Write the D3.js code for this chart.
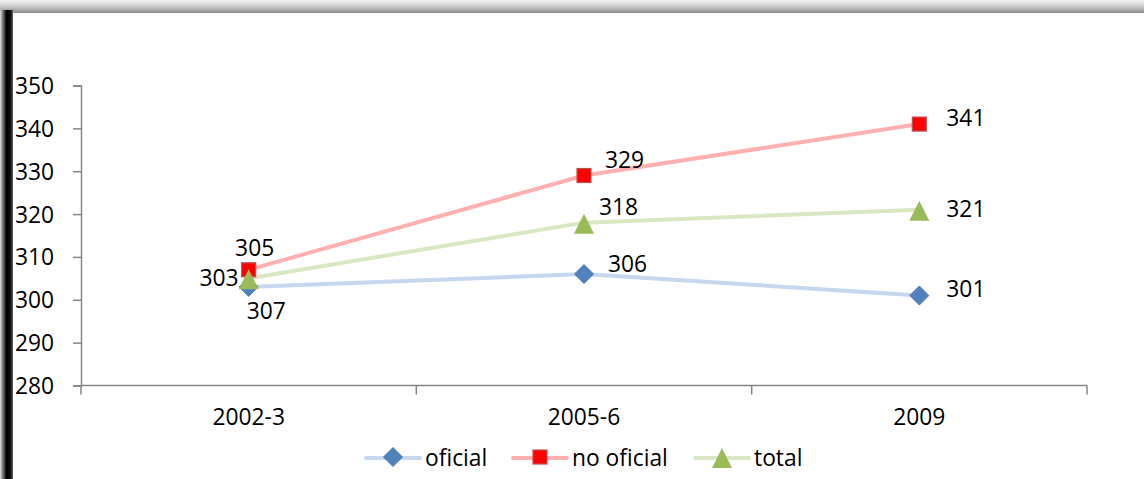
<!DOCTYPE html>
<html>
<head>
<meta charset="utf-8">
<script src="https://cdn.jsdelivr.net/npm/d3@7"></script>
<style>
  body { margin: 0; background: #fff; }
  svg text { font-family: "Open Sans", Lato, sans-serif; fill: #000; }
</style>
</head>
<body>
<svg id="chart" width="1144" height="479"></svg>
<script>
var categories = ["2002-3", "2005-6", "2009"];
var oficial = [303, 306, 301];
var noOficial = [307, 329, 341];
var total = [305, 318, 321];
// data labels as printed in the source chart
var oficialLabels = ["307", "306", "301"];
var noOficialLabels = ["305", "329", "341"];
var totalLabels = ["303", "318", "321"];
var yTicks = [280, 290, 300, 310, 320, 330, 340, 350];

var series = [
  { name: "oficial", values: oficial, labels: oficialLabels, line: "#c6d7ee", fill: "#4f81bd", stroke: "#4a7ab5", shape: "diamond",
    // label offsets relative to marker
    off: [[-2, 24, "start"], [24, -10, "start"], [27, -6, "start"]] },
  { name: "no oficial", values: noOficial, labels: noOficialLabels, line: "#ffb0b0", fill: "#ff0000", stroke: "#c0504d", shape: "square",
    off: [[6, -22, "middle"], [21, -15, "start"], [27, -6, "start"]] },
  { name: "total", values: total, labels: totalLabels, line: "#d9e7c2", fill: "#9bbb59", stroke: "#9bbb59", shape: "triangle",
    off: [[-10, 0, "end"], [15, -16, "start"], [27, -1, "start"]] }
];

var svg = d3.select("#chart");
var W = 1144, H = 479;
var fs = "22.8px";

// frame with shadowed top and left edges
var defs = svg.append("defs");
var gTop = defs.append("linearGradient").attr("id", "gtop").attr("x1", 0).attr("y1", 0).attr("x2", 0).attr("y2", 1);
gTop.append("stop").attr("offset", "0%").attr("stop-color", "#f4f4f4");
gTop.append("stop").attr("offset", "45%").attr("stop-color", "#d0d0d0");
gTop.append("stop").attr("offset", "100%").attr("stop-color", "#8a8a8a");
var gLeft = defs.append("linearGradient").attr("id", "gleft").attr("x1", 0).attr("y1", 0).attr("x2", 1).attr("y2", 0);
gLeft.append("stop").attr("offset", "0%").attr("stop-color", "#e0e0e0");
gLeft.append("stop").attr("offset", "25%").attr("stop-color", "#6a6a6a");
gLeft.append("stop").attr("offset", "50%").attr("stop-color", "#000");
gLeft.append("stop").attr("offset", "82%").attr("stop-color", "#111");
gLeft.append("stop").attr("offset", "100%").attr("stop-color", "#666");

svg.append("rect").attr("x", 0).attr("y", 0).attr("width", W).attr("height", 13).attr("fill", "url(#gtop)");
svg.append("rect").attr("x", 0).attr("y", 10).attr("width", 13).attr("height", H - 10).attr("fill", "url(#gleft)");

var margin = { left: 81, right: 57, top: 85.5, bottom: 93.5 };

var x = d3.scaleBand().domain(categories).range([margin.left, W - margin.right]);
var y = d3.scaleLinear().domain([280, 350]).range([H - margin.bottom, margin.top]);

// y axis
var yAxis = svg.append("g").attr("transform", "translate(" + margin.left + ",0)")
  .call(d3.axisLeft(y).tickValues(yTicks).tickSize(8).tickPadding(10));
yAxis.select(".domain").attr("stroke", "#868686").attr("stroke-width", 1.5);
yAxis.selectAll(".tick line").attr("stroke", "#868686").attr("stroke-width", 1.5);
// labels sit flush with the frame edge
yAxis.selectAll(".tick text").attr("x", -66).attr("dy", "0.35em")
  .style("text-anchor", "start").style("font-size", fs);

// x axis with ticks between categories
var xAxisG = svg.append("g").attr("transform", "translate(0," + y(280) + ")");
xAxisG.append("line").attr("x1", margin.left).attr("x2", W - margin.right)
  .attr("stroke", "#868686").attr("stroke-width", 1.5);
var bounds = categories.map(function (c) { return x(c); }).concat([x(categories[categories.length - 1]) + x.bandwidth()]);
xAxisG.selectAll(".xt").data(bounds).enter().append("line")
  .attr("x1", function (d) { return d; }).attr("x2", function (d) { return d; })
  .attr("y1", 0).attr("y2", 9).attr("stroke", "#868686").attr("stroke-width", 1.5);
xAxisG.selectAll(".xl").data(categories).enter().append("text")
  .attr("x", function (d) { return x(d) + x.bandwidth() / 2; })
  .attr("y", 39).attr("text-anchor", "middle").style("font-size", fs).text(function (d) { return d; });

function cx(i) { return x(categories[i]) + x.bandwidth() / 2; }

function drawMarker(g, shape, px, py, s) {
  if (shape === "diamond") {
    g.append("path").attr("d", "M" + px + "," + (py - 9.5) + "L" + (px + 9.5) + "," + py + "L" + px + "," + (py + 9.5) + "L" + (px - 9.5) + "," + py + "Z")
      .attr("fill", s.fill).attr("stroke", s.stroke).attr("stroke-width", 1);
  } else if (shape === "square") {
    g.append("rect").attr("x", px - 7).attr("y", py - 7).attr("width", 14).attr("height", 14)
      .attr("fill", s.fill).attr("stroke", s.stroke).attr("stroke-width", 1.2);
  } else {
    g.append("path").attr("d", "M" + px + "," + (py - 9) + "L" + (px + 10) + "," + (py + 11) + "L" + (px - 10) + "," + (py + 11) + "Z")
      .attr("fill", s.fill);
  }
}

var line = d3.line().x(function (d, i) { return cx(i); }).y(function (d) { return y(d); });

series.forEach(function (s) {
  svg.append("path").datum(s.values).attr("d", line).attr("fill", "none")
    .attr("stroke", s.line).attr("stroke-width", 4).attr("stroke-linecap", "round");
});
series.forEach(function (s) {
  var g = svg.append("g");
  s.values.forEach(function (v, i) { drawMarker(g, s.shape, cx(i), y(v), s); });
});
series.forEach(function (s) {
  s.values.forEach(function (v, i) {
    svg.append("text").attr("x", cx(i) + s.off[i][0]).attr("y", y(v) + s.off[i][1])
      .attr("dy", "0.35em").attr("text-anchor", s.off[i][2]).style("font-size", fs).text(s.labels[i]);
  });
});

// legend
var legendX = [366, 513, 695];
var ly = 458;
series.forEach(function (s, i) {
  var g = svg.append("g");
  var lx = legendX[i];
  g.append("line").attr("x1", lx).attr("x2", lx + 54).attr("y1", ly).attr("y2", ly)
    .attr("stroke", s.line).attr("stroke-width", 4).attr("stroke-linecap", "round");
  drawMarker(g, s.shape, lx + 27, ly - 1, s);
  g.append("text").attr("x", lx + 59).attr("y", ly).attr("dy", "0.35em").style("font-size", fs).text(s.name);
});
</script>
</body>
</html>
